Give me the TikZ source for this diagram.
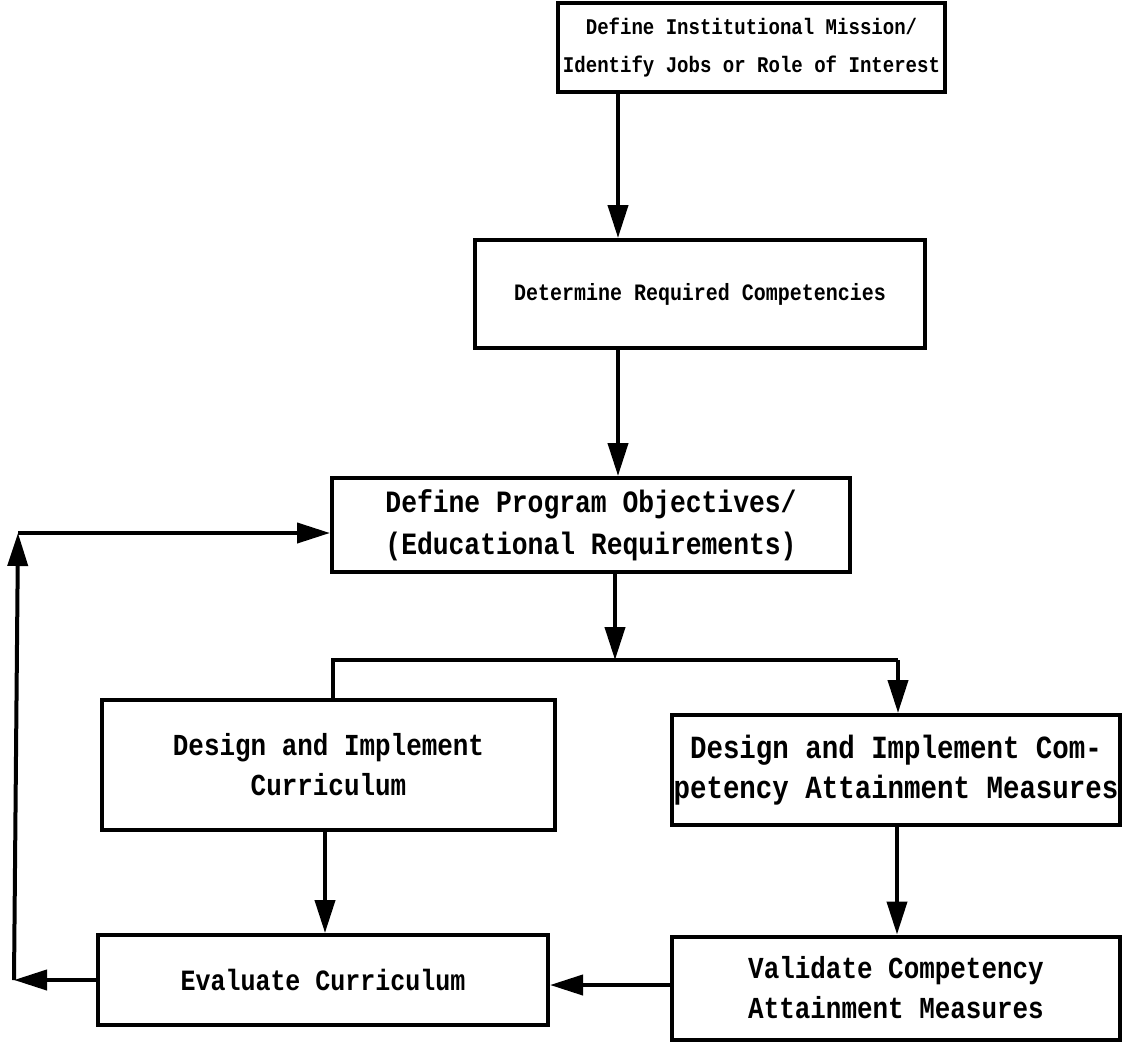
\documentclass[tikz,border=0pt]{standalone}
\usepackage{fontspec}
\newfontfamily\tw[FakeStretch=0.85]{Liberation Mono}
\usetikzlibrary{arrows.meta,calc}
\begin{document}
\begin{tikzpicture}[x=1pt,y=-1pt,
  box/.style={draw,line width=4pt,rectangle,inner sep=0pt,align=center},
  arr/.style={line width=4pt,-{Triangle[length=33pt,width=20pt]}},
  ln/.style={line width=4pt}]
\useasboundingbox (0,0) rectangle (1122,1045);
% boxes
\node[box,minimum width=387pt,minimum height=89pt,font=\tw\bfseries\fontsize{22.4}{38}\selectfont] (b1) at (751.5,47.5) {Define Institutional Mission/\\Identify Jobs or Role of Interest};
\node[box,minimum width=450pt,minimum height=108pt,font=\tw\bfseries\fontsize{23.5}{38}\selectfont] (b2) at (700,294) {Determine Required Competencies};
\node[box,minimum width=518pt,minimum height=94pt,font=\tw\bfseries\fontsize{31}{42}\selectfont] (b3) at (591,525) {Define Program Objectives/\\(Educational Requirements)};
\node[box,minimum width=453pt,minimum height=130pt,font=\tw\bfseries\fontsize{30.5}{40}\selectfont] (b4) at (328.5,765) {Design and Implement\\Curriculum};
\node[box,minimum width=448pt,minimum height=110pt,font=\tw\bfseries\fontsize{32.3}{40}\selectfont] (b5) at (896,770) {Design and Implement Com-\\petency Attainment Measures};
\node[box,minimum width=450pt,minimum height=90pt,font=\tw\bfseries\fontsize{29.4}{40}\selectfont] (b6) at (323,980) {Evaluate Curriculum};
\node[box,minimum width=448pt,minimum height=103pt,font=\tw\bfseries\fontsize{30.5}{40}\selectfont] (b7) at (896,988) {Validate Competency\\Attainment Measures};
% junction coordinates
\coordinate (jc) at (615,660);
\coordinate (jl) at (333,660);
\coordinate (jr) at (898,660);
\coordinate (fl) at (14,980);
\coordinate (ft) at (18,533);
% connectors
\draw[arr] (618,0 |- b1.south) -- (618,0 |- b2.north);
\draw[arr] (618,0 |- b2.south) -- (618,0 |- b3.north);
\draw[arr] (jc |- b3.south) -- (jc);
\draw[ln] (jl |- b4.north) -- (jl) -- (jr);
\draw[arr] (jr) -- (jr |- b5.north);
\draw[arr] (325,0 |- b4.south) -- (325,0 |- b6.north);
\draw[arr] (897,0 |- b5.south) -- (897,0 |- b7.north);
\draw[arr] (b7.west |- 0,985) -- (b6.east |- 0,985);
\draw[arr] (b6.west |- fl) -- (fl);
\draw[arr] (fl) -- (ft);
\draw[arr] (ft) -- (b3.west |- ft);
\end{tikzpicture}
\end{document}
